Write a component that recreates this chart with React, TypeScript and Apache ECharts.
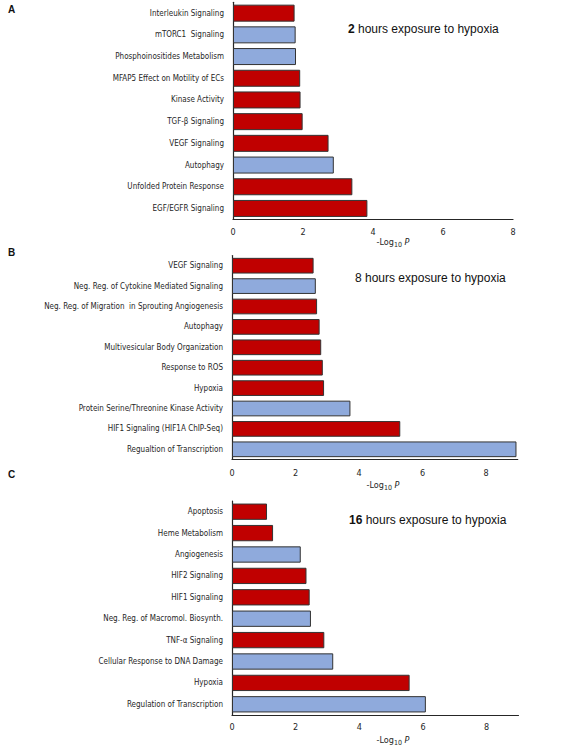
import React, { useEffect, useRef } from "react";
import * as echarts from "echarts";

// Panel A: 2 hours
const catsA = [
  "Interleukin Signaling",
  "mTORC1  Signaling",
  "Phosphoinositides Metabolism",
  "MFAP5 Effect on Motility of ECs",
  "Kinase Activity",
  "TGF-β Signaling",
  "VEGF Signaling",
  "Autophagy",
  "Unfolded Protein Response",
  "EGF/EGFR Signaling",
];
const valsA = [1.76, 1.79, 1.8, 1.92, 1.93, 1.99, 2.73, 2.88, 3.41, 3.84];
const groupA = ["R", "B", "B", "R", "R", "R", "R", "B", "R", "R"];

// Panel B: 8 hours
const catsB = [
  "VEGF Signaling",
  "Neg. Reg. of Cytokine Mediated Signaling",
  "Neg. Reg. of Migration  in Sprouting Angiogenesis",
  "Autophagy",
  "Multivesicular Body Organization",
  "Response to ROS",
  "Hypoxia",
  "Protein Serine/Threonine Kinase Activity",
  "HIF1 Signaling (HIF1A ChIP-Seq)",
  "Regualtion of Transcription",
];
const valsB = [2.57, 2.64, 2.68, 2.76, 2.81, 2.86, 2.9, 3.73, 5.3, 8.96];
const groupB = ["R", "B", "R", "R", "R", "R", "R", "B", "R", "B"];

// Panel C: 16 hours
const catsC = [
  "Apoptosis",
  "Heme Metabolism",
  "Angiogenesis",
  "HIF2 Signaling",
  "HIF1 Signaling",
  "Neg. Reg. of Macromol. Biosynth.",
  "TNF-α Signaling",
  "Cellular Response to DNA Damage",
  "Hypoxia",
  "Regulation of Transcription",
];
const valsC = [1.1, 1.29, 2.16, 2.34, 2.44, 2.48, 2.9, 3.18, 5.58, 6.09];
const groupC = ["R", "R", "B", "R", "R", "B", "R", "B", "R", "B"];

const xTicksInterval = 2;
const axisMaxA = 8;
const axisMaxB = 9;
const axisMaxC = 9;

const RED = "#C00000";
const BLUE = "#8FAADC";
const LABEL_FONT = "'DejaVu Sans Condensed', 'DejaVu Sans', sans-serif";
const TITLE_FONT = "'Liberation Sans', Arial, sans-serif";
const AX = "#262626";

function makeAxes(gi: number, cats: string[], max: number, tickMargin: number, showMax: boolean) {
  const x = {
    gridIndex: gi,
    type: "value",
    min: 0,
    max,
    interval: xTicksInterval,
    axisLine: { show: true, lineStyle: { color: AX, width: 1.2 } },
    axisTick: { show: false },
    splitLine: { show: false },
    axisLabel: {
      fontSize: 9,
      color: AX,
      margin: tickMargin,
      fontFamily: LABEL_FONT,
      showMaxLabel: showMax,
    },
  };
  const y = {
    gridIndex: gi,
    type: "category",
    data: cats,
    inverse: true,
    axisLine: { show: true, lineStyle: { color: AX, width: 1.2 } },
    axisTick: { show: false },
    splitLine: { show: false },
    axisLabel: { fontSize: 8, color: AX, margin: 9, fontFamily: LABEL_FONT },
  };
  return { x, y };
}

function makeSeries(gi: number, vals: number[], groups: string[], barWidth: number) {
  return {
    type: "bar",
    xAxisIndex: gi,
    yAxisIndex: gi,
    barWidth,
    data: vals.map((v, i) => ({
      value: v,
      itemStyle: { color: groups[i] === "R" ? RED : BLUE },
    })),
    itemStyle: { borderColor: "#333", borderWidth: 1 },
  };
}

function axisName(x: number, y: number) {
  return {
    type: "text",
    x,
    y,
    style: {
      text: "{a|-Log}{s|10}{a| }{p|P}",
      align: "center",
      verticalAlign: "middle",
      rich: {
        a: { fontSize: 9, fontFamily: LABEL_FONT, fill: AX, verticalAlign: "bottom", padding: [0, 0, 2, 0] },
        s: { fontSize: 7, fontFamily: LABEL_FONT, fill: AX, verticalAlign: "bottom" },
        p: { fontSize: 9, fontFamily: LABEL_FONT, fontStyle: "italic", fill: AX, verticalAlign: "bottom", padding: [0, 0, 2, 0] },
      },
    },
  };
}

function title(x: number, y: number, num: string, bold: boolean) {
  return {
    type: "text",
    x,
    y,
    style: {
      text: `{n|${num}}{t| hours exposure to hypoxia}`,
      verticalAlign: "middle",
      rich: {
        n: { fontSize: 12, fontFamily: TITLE_FONT, fontWeight: bold ? "bold" : "normal", fill: "#111" },
        t: { fontSize: 12, fontFamily: TITLE_FONT, fill: "#111" },
      },
    },
  };
}

function letter(x: number, y: number, t: string) {
  return {
    type: "text",
    x,
    y,
    style: { text: t, fontSize: 10, fontWeight: "bold", fontFamily: TITLE_FONT, fill: "#111", verticalAlign: "middle" },
  };
}

export default function App() {
  const ref = useRef<HTMLDivElement>(null);
  useEffect(() => {
    document.body.style.margin = "0";
    if (!ref.current) return;
    const chart = echarts.init(ref.current, undefined, { renderer: "svg" });
    const a = makeAxes(0, catsA, axisMaxA, 8, true);
    const b = makeAxes(1, catsB, axisMaxB, 9, false);
    const c = makeAxes(2, catsC, axisMaxC, 7, false);
    chart.setOption({
      animation: false,
      backgroundColor: "#ffffff",
      grid: [
        { left: 233, top: 2.3, width: 280, height: 217 },
        { left: 232, top: 255.5, width: 285.75, height: 204 },
        { left: 232, top: 501, width: 286.5, height: 214 },
      ],
      xAxis: [a.x, b.x, c.x],
      yAxis: [a.y, b.y, c.y],
      series: [
        makeSeries(0, valsA, groupA, 17),
        makeSeries(1, valsB, groupB, 15.7),
        makeSeries(2, valsC, groupC, 16.3),
      ],
      graphic: [
        letter(8, 9, "A"),
        letter(8, 252, "B"),
        letter(8, 474, "C"),
        title(348, 29, "2", true),
        title(355, 278, "8", false),
        title(349, 520, "16", true),
        axisName(393, 243),
        axisName(383, 486),
        axisName(393, 741),
      ],
    });
    return () => chart.dispose();
  }, []);
  return <div ref={ref} style={{ width: 566, height: 750 }} />;
}
